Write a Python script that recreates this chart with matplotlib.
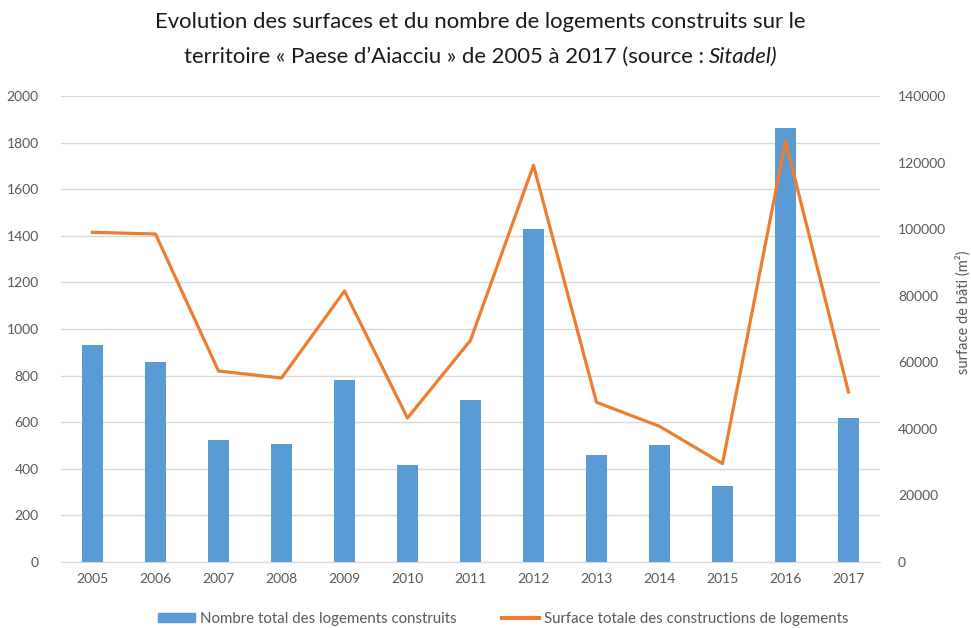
import matplotlib.pyplot as plt
import numpy as np
from matplotlib.lines import Line2D
from matplotlib.patches import Patch

plt.rcParams['font.family'] = ['Lato', 'DejaVu Sans']

# données
annees = ['2005', '2006', '2007', '2008', '2009', '2010', '2011',
          '2012', '2013', '2014', '2015', '2016', '2017']
logements = [933, 860, 522, 505, 780, 418, 694, 1429, 461, 504, 325, 1864, 620]
surfaces = [99050, 98540, 57380, 55280, 81420, 43260, 66600,
            119180, 47980, 40770, 29560, 126480, 51070]

bleu = '#5b9bd5'
orange = '#ed7d31'
gris = '#595959'

fig = plt.figure(figsize=(9.71, 6.28), dpi=100)
ax = fig.add_axes([61 / 971, 1 - 562 / 628, 819 / 971, 466 / 628])
x = np.arange(len(annees))

ax.bar(x, logements, width=0.32, color=bleu, zorder=2)
ax.set_xlim(-0.5, len(annees) - 0.5)
ax.set_ylim(0, 2000)
ax.set_yticks(range(0, 2001, 200))
ax.set_xticks(x)
ax.set_xticklabels(annees)
ax.grid(axis='y', color='#d9d9d9', linewidth=1, zorder=0)
ax.set_axisbelow(True)
for s in ['top', 'right', 'left']:
    ax.spines[s].set_visible(False)
ax.spines['bottom'].set_color('#d9d9d9')
ax.tick_params(axis='both', length=0, labelsize=10, labelcolor=gris)
ax.tick_params(axis='y', pad=16)
ax.tick_params(axis='x', pad=8)

ax2 = ax.twinx()
ax2.plot(x, surfaces, color=orange, linewidth=2.3, zorder=3)
ax2.set_ylim(0, 140000)
ax2.set_yticks(range(0, 140001, 20000))
for s in ['top', 'right', 'left', 'bottom']:
    ax2.spines[s].set_visible(False)
ax2.tick_params(axis='y', length=0, labelsize=10, labelcolor=gris, pad=13)

# titre de l'axe de droite
fig.text(963 / 971, 1 - 312 / 628, 'surface de bâti (m²)', rotation=90,
         ha='center', va='center', fontsize=10.5, color=gris)

# titre (deux lignes, la fin en italique)
taille = 15.9
fig.text(0.495, 0.965, 'Evolution des surfaces et du nombre de logements construits sur le',
         ha='center', va='center', fontsize=taille, color='#1a1a1a')
t1 = fig.text(0, 0.909, 'territoire « Paese d\u2019Aiacciu » de 2005 à 2017 (source : ',
              ha='left', va='center', fontsize=taille, color='#1a1a1a')
t2 = fig.text(0, 0.909, 'Sitadel)', ha='left', va='center', fontsize=taille,
              color='#1a1a1a', style='italic')
r = fig.canvas.get_renderer()
w1 = t1.get_window_extent(r).width / fig.bbox.width
w2 = t2.get_window_extent(r).width / fig.bbox.width
x0 = 0.495 - (w1 + w2) / 2
t1.set_x(x0)
t2.set_x(x0 + w1)

handles = [Patch(color=bleu), Line2D([0], [0], color=orange, linewidth=3)]
labels = ['Nombre total des logements construits',
          'Surface totale des constructions de logements']
fig.legend(handles, labels, loc='center', bbox_to_anchor=(0.518, 0.015),
           ncol=2, frameon=False, fontsize=10.8, labelcolor=gris,
           handlelength=2.5, handleheight=0.5, handletextpad=0.3,
           columnspacing=3.0)

fig.savefig('out.png', dpi=100)
